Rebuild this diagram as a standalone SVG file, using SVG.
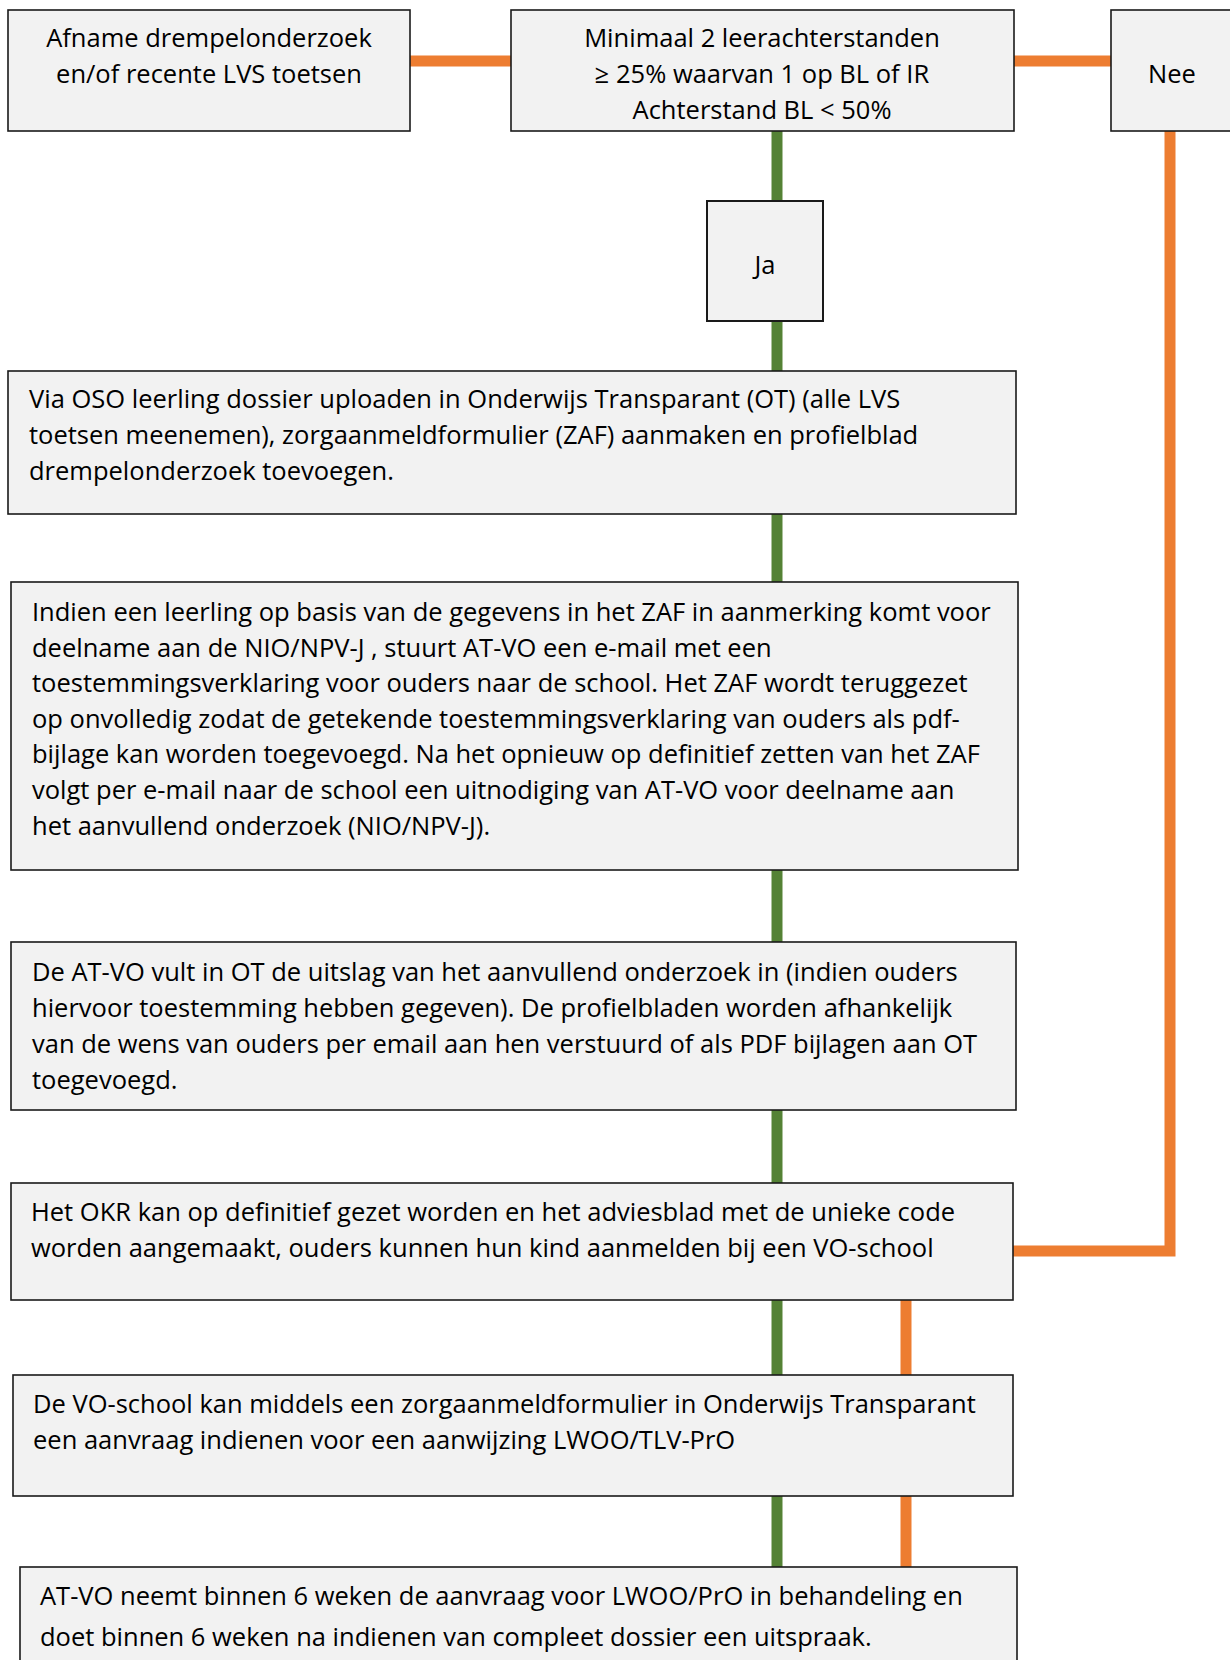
<svg xmlns="http://www.w3.org/2000/svg" width="1230" height="1660" viewBox="0 0 1230 1660">
<style>
.box{fill:#f2f2f2;stroke:#1a1a1a;stroke-width:1.6}
.t{font-family:"Open Sans","Noto Sans",sans-serif;font-size:25.5px;fill:#000}
.c{text-anchor:middle}
.g{stroke:#548235;stroke-width:11;fill:none}
.o{stroke:#ed7d31;stroke-width:11;fill:none}
</style>
<rect width="1230" height="1660" fill="#fff"/>
<g id="connectors">
<line class="o" x1="410" y1="61" x2="511" y2="61"/>
<line class="o" x1="1014" y1="61" x2="1111" y2="61"/>
<polyline class="o" points="1170,131 1170,1251 1013,1251"/>
<line class="g" x1="777" y1="131" x2="777" y2="201"/>
<line class="g" x1="777" y1="321" x2="777" y2="371"/>
<line class="g" x1="777" y1="514" x2="777" y2="582"/>
<line class="g" x1="777" y1="870" x2="777" y2="942"/>
<line class="g" x1="777" y1="1110" x2="777" y2="1183"/>
<line class="g" x1="777" y1="1300" x2="777" y2="1375"/>
<line class="g" x1="777" y1="1496" x2="777" y2="1567"/>
<line class="o" x1="906" y1="1300" x2="906" y2="1375"/>
<line class="o" x1="906" y1="1496" x2="906" y2="1567"/>
</g>
<g id="afname">
<rect class="box" x="8" y="10" width="402" height="121"/>
<text class="t c" x="209" y="47">Afname drempelonderzoek</text>
<text class="t c" x="209" y="83">en/of recente LVS toetsen</text>
</g>
<g id="minimaal">
<rect class="box" x="511" y="10" width="503" height="121"/>
<text class="t c" x="762" y="47">Minimaal 2 leerachterstanden</text>
<text class="t c" x="762" y="83">≥ 25% waarvan 1 op BL of IR</text>
<text class="t c" x="762" y="119">Achterstand BL &lt; 50%</text>
</g>
<g id="nee">
<rect class="box" x="1111" y="10" width="123" height="121"/>
<text class="t c" x="1172" y="83">Nee</text>
</g>
<g id="ja">
<rect class="box" x="707" y="201" width="116" height="120" style="stroke-width:2"/>
<text class="t c" x="765" y="274">Ja</text>
</g>
<g id="oso">
<rect class="box" x="8" y="371" width="1008" height="143"/>
<text class="t" x="29" y="408">Via OSO leerling dossier uploaden in Onderwijs Transparant (OT) (alle LVS</text>
<text class="t" x="29" y="444">toetsen meenemen), zorgaanmeldformulier (ZAF) aanmaken en profielblad</text>
<text class="t" x="29" y="480">drempelonderzoek toevoegen.</text>
</g>
<g id="nio">
<rect class="box" x="11" y="582" width="1007" height="288"/>
<text class="t" x="32" y="621">Indien een leerling op basis van de gegevens in het ZAF in aanmerking komt voor</text>
<text class="t" x="32" y="657">deelname aan de NIO/NPV-J , stuurt AT-VO een e-mail met een</text>
<text class="t" x="32" y="692">toestemmingsverklaring voor ouders naar de school. Het ZAF wordt teruggezet</text>
<text class="t" x="32" y="728">op onvolledig zodat de getekende toestemmingsverklaring van ouders als pdf-</text>
<text class="t" x="32" y="763">bijlage kan worden toegevoegd. Na het opnieuw op definitief zetten van het ZAF</text>
<text class="t" x="32" y="799">volgt per e-mail naar de school een uitnodiging van AT-VO voor deelname aan</text>
<text class="t" x="32" y="835">het aanvullend onderzoek (NIO/NPV-J).</text>
</g>
<g id="uitslag">
<rect class="box" x="11" y="942" width="1005" height="168"/>
<text class="t" x="32" y="981">De AT-VO vult in OT de uitslag van het aanvullend onderzoek in (indien ouders</text>
<text class="t" x="32" y="1017">hiervoor toestemming hebben gegeven). De profielbladen worden afhankelijk</text>
<text class="t" x="32" y="1053">van de wens van ouders per email aan hen verstuurd of als PDF bijlagen aan OT</text>
<text class="t" x="32" y="1089">toegevoegd.</text>
</g>
<g id="okr">
<rect class="box" x="11" y="1183" width="1002" height="117"/>
<text class="t" x="31" y="1221">Het OKR kan op definitief gezet worden en het adviesblad met de unieke code</text>
<text class="t" x="31" y="1257">worden aangemaakt, ouders kunnen hun kind aanmelden bij een VO-school</text>
</g>
<g id="voschool">
<rect class="box" x="13" y="1375" width="1000" height="121"/>
<text class="t" x="33" y="1413">De VO-school kan middels een zorgaanmeldformulier in Onderwijs Transparant</text>
<text class="t" x="33" y="1449">een aanvraag indienen voor een aanwijzing LWOO/TLV-PrO</text>
</g>
<g id="atvo">
<rect class="box" x="20" y="1567" width="997" height="120"/>
<text class="t" x="40" y="1605">AT-VO neemt binnen 6 weken de aanvraag voor LWOO/PrO in behandeling en</text>
<text class="t" x="40" y="1646">doet binnen 6 weken na indienen van compleet dossier een uitspraak.</text>
</g>
</svg>
